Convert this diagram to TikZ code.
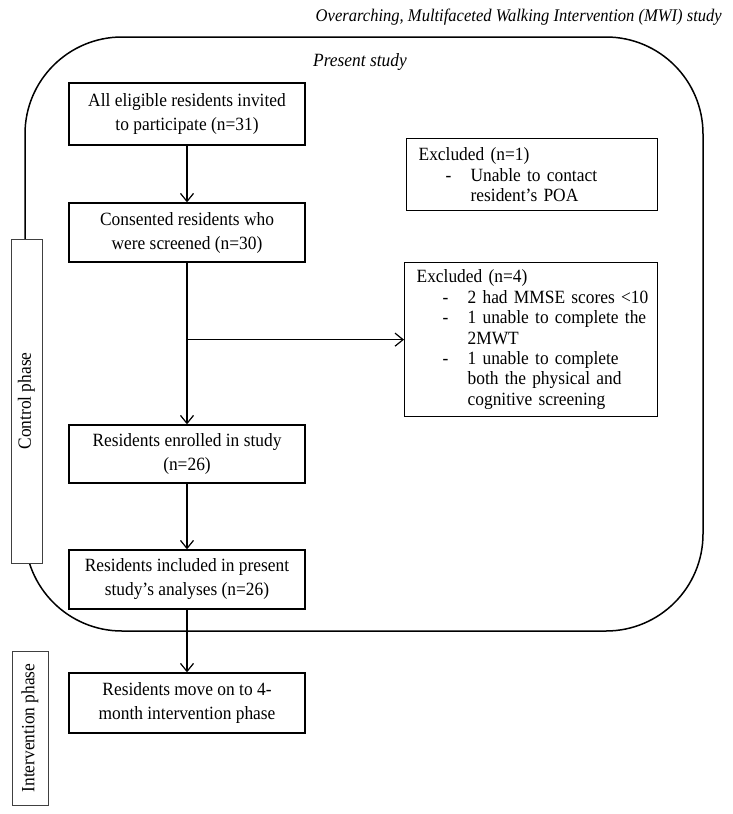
\documentclass[tikz,border=0pt]{standalone}
\usepackage{fontspec}
\setmainfont[FakeStretch=0.93]{Liberation Serif}
\usetikzlibrary{arrows.meta}
\begin{document}
\begin{tikzpicture}[x=1pt,y=-1pt,
  flowbox/.style={draw, line width=1.3pt, fill=white, minimum width=236pt, align=center, inner sep=0pt, font=\fontsize{18.7}{24}\selectfont},
  exclbox/.style={draw, line width=1.3pt, fill=white, inner xsep=12pt, inner ysep=0pt, align=left, anchor=north west, font=\fontsize{18.7}{20.4}\selectfont},
  phasebox/.style={draw=black!75, line width=0.8pt, fill=white, rotate=90, inner sep=0pt, font=\fontsize{18.7}{20}\selectfont},
  flowarrow/.style={-{Straight Barb[length=8pt,width=13pt]}, line width=1.2pt},
  studyframe/.style={line width=1.5pt, rounded corners=97pt}
]
\useasboundingbox (0,0) rectangle (732,814);

% outer rounded frame (present study)
\draw[studyframe] (25,37) rectangle (703,631);

% titles
\node[anchor=east, inner sep=0pt, font=\fontsize{17.8}{20}\selectfont\itshape] (title) at (722,17) {Overarching, Multifaceted Walking Intervention (MWI) study};
\node[inner sep=0pt, font=\fontsize{18.7}{20}\selectfont\itshape] (ps) at (360,62) {Present study};

% phase boxes
\node[phasebox, minimum width=324pt, minimum height=31pt] (cp) at (26.5,401) {Control phase};
\node[phasebox, minimum width=154pt, minimum height=36pt] (ip) at (30,728) {Intervention phase};

% main flow
\node[flowbox, minimum height=62pt] (b1) at (187,114) {All eligible residents invited\\to participate (n=31)};
\node[flowbox, minimum height=59pt] (b2) at (187,232.5) {Consented residents who\\were screened (n=30)};
\node[flowbox, minimum height=58pt] (b3) at (187,454) {Residents enrolled in study\\(n=26)};
\node[flowbox, minimum height=59pt] (b4) at (187,579.5) {Residents included in present\\study’s analyses (n=26)};
\node[flowbox, minimum height=60pt] (b5) at (187,703) {Residents move on to 4-\\month intervention phase};

% exclusion boxes
\node[exclbox, text width=227pt, minimum height=72pt] (e1) at (406,138) {Excluded (n=1)\\
\hspace*{27pt}\makebox[25pt][l]{-}\mbox{Unable to contact}\\
\hspace*{52pt}\mbox{resident’s POA}};
\node[exclbox, text width=229pt, minimum height=154pt] (e2) at (404,262) {Excluded (n=4)\\
\hspace*{26pt}\makebox[25pt][l]{-}\mbox{2 had MMSE scores <10}\\
\hspace*{26pt}\makebox[25pt][l]{-}\mbox{1 unable to complete the}\\
\hspace*{51pt}\mbox{2MWT}\\
\hspace*{26pt}\makebox[25pt][l]{-}\mbox{1 unable to complete}\\
\hspace*{51pt}\mbox{both the physical and}\\
\hspace*{51pt}\mbox{cognitive screening}};

% connectors
\draw[flowarrow] (b1) -- (b2);
\draw[flowarrow] (b2) -- (b3);
\coordinate (j) at (b2.south |- e2.west);
\draw[flowarrow] (j) -- (e2.west);
\draw[flowarrow] (b3) -- (b4);
\draw[flowarrow] (b4) -- (b5);
\end{tikzpicture}
\end{document}
